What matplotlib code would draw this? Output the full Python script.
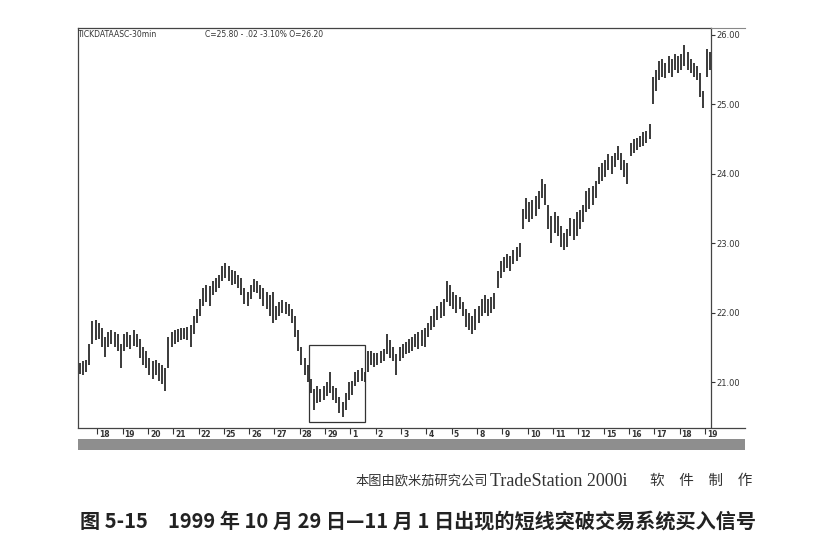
import matplotlib.pyplot as plt
from matplotlib.patches import Rectangle
from matplotlib.lines import Line2D
import numpy as np

# trading days shown on the date strip (Oct 18 .. Nov 19, 1999)
day_labels = ['18', '19', '20', '21', '22', '25', '26', '27', '28', '29',
              '1', '2', '3', '4', '5', '8', '9', '10', '11', '12',
              '15', '16', '17', '18', '19']
bars_per_day = 8

# 30-min bars: first day (Oct 15) is partial, last day (Nov 19) too
first_day_offset = 2   # Oct 15 starts at bar slot 2
lows = [
    21.12, 21.10, 21.15, 21.25, 21.55, 21.60,                   # Oct 15
    21.62, 21.50, 21.36, 21.50, 21.55, 21.50, 21.45, 21.20,     # Oct 18
    21.45, 21.50, 21.48, 21.52, 21.50, 21.35, 21.25, 21.20,     # Oct 19
    21.10, 21.05, 21.10, 21.02, 20.98, 20.88, 21.20, 21.50,     # Oct 20
    21.55, 21.58, 21.60, 21.62, 21.60, 21.50, 21.70, 21.85,     # Oct 21
    21.95, 22.10, 22.15, 22.10, 22.25, 22.30, 22.35, 22.45,     # Oct 22
    22.50, 22.45, 22.40, 22.42, 22.35, 22.25, 22.12, 22.10,     # Oct 25
    22.20, 22.30, 22.28, 22.20, 22.10, 22.05, 21.95, 21.85,     # Oct 26
    21.90, 21.95, 22.00, 21.98, 21.95, 21.85, 21.65, 21.45,     # Oct 27
    21.25, 21.10, 21.00, 20.85, 20.60, 20.70, 20.72, 20.75,     # Oct 28
    20.80, 20.85, 20.75, 20.70, 20.55, 20.50, 20.60, 20.75,     # Oct 29
    20.82, 20.95, 21.00, 21.02, 21.00, 21.15, 21.25, 21.22,     # Nov 1
    21.25, 21.28, 21.30, 21.40, 21.35, 21.30, 21.10, 21.30,     # Nov 2
    21.35, 21.40, 21.42, 21.45, 21.50, 21.48, 21.52, 21.50,     # Nov 3
    21.65, 21.75, 21.80, 21.90, 21.92, 21.95, 22.15, 22.10,     # Nov 4
    22.05, 22.00, 22.05, 21.95, 21.80, 21.75, 21.70, 21.75,     # Nov 5
    21.85, 21.95, 22.00, 21.95, 22.00, 22.05, 22.35, 22.50,     # Nov 8
    22.58, 22.65, 22.60, 22.70, 22.75, 22.80, 23.20, 23.35,     # Nov 9
    23.30, 23.35, 23.40, 23.50, 23.65, 23.55, 23.20, 23.00,     # Nov 10
    23.15, 23.10, 22.95, 22.90, 22.95, 23.10, 23.05, 23.10,     # Nov 11
    23.20, 23.30, 23.45, 23.50, 23.55, 23.65, 23.85, 23.90,     # Nov 12
    23.95, 24.05, 24.00, 24.10, 24.20, 24.05, 23.95, 23.85,     # Nov 15
    24.25, 24.30, 24.35, 24.38, 24.40, 24.45, 24.50, 25.00,     # Nov 16
    25.20, 25.35, 25.40, 25.38, 25.45, 25.40, 25.50, 25.45,     # Nov 17
    25.50, 25.55, 25.50, 25.45, 25.40, 25.35, 25.10, 24.95,     # Nov 18
    25.40, 25.50,                                               # Nov 19
]
highs = [
    21.28, 21.30, 21.32, 21.55, 21.88, 21.90,
    21.85, 21.78, 21.65, 21.72, 21.75, 21.72, 21.70, 21.55,
    21.70, 21.72, 21.68, 21.75, 21.70, 21.62, 21.50, 21.45,
    21.35, 21.30, 21.32, 21.28, 21.25, 21.20, 21.65, 21.72,
    21.75, 21.76, 21.78, 21.78, 21.80, 21.82, 21.95, 22.05,
    22.20, 22.35, 22.40, 22.38, 22.45, 22.50, 22.55, 22.68,
    22.72, 22.68, 22.62, 22.60, 22.55, 22.50, 22.35, 22.30,
    22.40, 22.48, 22.45, 22.40, 22.35, 22.30, 22.25, 22.30,
    22.10, 22.15, 22.18, 22.15, 22.12, 22.05, 21.95, 21.75,
    21.50, 21.35, 21.25, 21.05, 20.90, 20.95, 20.90, 20.95,
    21.00, 21.15, 20.95, 20.92, 20.78, 20.72, 20.85, 21.00,
    21.02, 21.15, 21.18, 21.20, 21.15, 21.45, 21.45, 21.42,
    21.42, 21.45, 21.48, 21.70, 21.60, 21.50, 21.40, 21.50,
    21.55, 21.58, 21.62, 21.65, 21.70, 21.72, 21.75, 21.78,
    21.85, 21.95, 22.05, 22.10, 22.15, 22.20, 22.45, 22.40,
    22.30, 22.25, 22.22, 22.15, 22.05, 22.00, 21.95, 22.05,
    22.10, 22.20, 22.25, 22.20, 22.22, 22.28, 22.60, 22.75,
    22.80, 22.85, 22.82, 22.90, 22.95, 23.00, 23.50, 23.65,
    23.60, 23.62, 23.68, 23.75, 23.92, 23.85, 23.55, 23.40,
    23.45, 23.40, 23.25, 23.15, 23.20, 23.37, 23.35, 23.45,
    23.48, 23.55, 23.75, 23.80, 23.82, 23.90, 24.10, 24.15,
    24.20, 24.28, 24.25, 24.30, 24.40, 24.30, 24.20, 24.15,
    24.45, 24.50, 24.52, 24.55, 24.60, 24.62, 24.72, 25.40,
    25.50, 25.62, 25.65, 25.60, 25.70, 25.65, 25.72, 25.70,
    25.72, 25.85, 25.75, 25.65, 25.60, 25.55, 25.45, 25.20,
    25.80, 25.75,
]

# the highlighted breakout window (Oct 28 .. Nov 1)
box_days = (8.35, 10.58)
box_prices = (20.42, 21.53)

header_left = 'TICKDATAASC-30min'
header_right = 'C=25.80 - .02 -3.10% O=26.20'
credit_cn = '本图由欧米茄研究公司'
credit_en = 'TradeStation 2000i'
credit_tail = '软\u3000件\u3000制\u3000作'
caption = '图 5-15　1999 年 10 月 29 日—11 月 1 日出现的短线突破交易系统买入信号'

W, H = 817, 550
fig = plt.figure(figsize=(W / 100, H / 100), dpi=100)
fig.patch.set_facecolor('white')

def fx(px):
    return px / W

def fy(py):
    return 1 - py / H

# main price panel
left, right, top, bottom = 78, 711, 28, 428
ax = fig.add_axes([fx(left), fy(bottom), fx(right - left), fy(top) - fy(bottom)])
xlim = (-0.76, 24.24)
ax.set_xlim(*xlim)
ax.set_ylim(20.34, 26.1)

slots = np.arange(len(lows)) + first_day_offset
xpos = -1 + (slots + 0.5) / bars_per_day
ax.vlines(xpos, lows, highs, color='#2b2b2b', linewidth=1.3)

ax.add_patch(Rectangle((box_days[0], box_prices[0]), box_days[1] - box_days[0],
                       box_prices[1] - box_prices[0], fill=False,
                       edgecolor='#333333', linewidth=0.9))

ax.set_xticks([])
ax.yaxis.tick_right()
ax.set_yticks([21, 22, 23, 24, 25, 26])
ax.set_yticklabels([f'{v:.2f}' for v in [21, 22, 23, 24, 25, 26]])
ax.tick_params(axis='y', direction='out', length=3, width=0.8, pad=1,
               labelsize=6, colors='#333333')
ax.spines['bottom'].set_visible(False)
for s in ['left', 'top', 'right']:
    ax.spines[s].set_color('#444444')
    ax.spines[s].set_linewidth(0.9)

ax.text(0.0, 0.995, header_left, transform=ax.transAxes, fontsize=5.5,
        va='top', ha='left', color='#333333')
ax.text(0.2, 0.995, header_right, transform=ax.transAxes, fontsize=5.5,
        va='top', ha='left', color='#333333')

# top border continues past the price scale
fig.add_artist(Line2D([fx(right), fx(745)], [fy(top), fy(top)],
                      color='#888888', linewidth=0.8))

# date strip under the chart
strip_right, strip_bottom = 745, 450
sx = fig.add_axes([fx(left), fy(strip_bottom), fx(strip_right - left),
                   fy(bottom) - fy(strip_bottom)])
span = (xlim[1] - xlim[0]) * (strip_right - left) / (right - left)
sx.set_xlim(xlim[0], xlim[0] + span)
sx.set_ylim(0, 1)
sx.axhspan(0, 0.5, color='#8e8e8e', linewidth=0)
for s in ['left', 'right', 'bottom']:
    sx.spines[s].set_visible(False)
sx.spines['top'].set_color('#444444')
sx.spines['top'].set_linewidth(0.9)
sx.set_yticks([])
day_pos = np.arange(len(day_labels))
sx.set_xticks(day_pos)
sx.xaxis.tick_top()
sx.tick_params(axis='x', direction='in', length=4, width=0.8, colors='#333333',
               labeltop=False, labelbottom=False)
for p, lab in zip(day_pos, day_labels):
    sx.text(p + 0.08, 0.72, lab, fontsize=5.5, fontweight='bold', va='center',
            ha='left', color='#333333')

# credit line and figure caption
fig.text(fx(355), fy(481), credit_cn, ha='left', va='center', fontsize=9.5,
         family=['Noto Sans CJK SC', 'DejaVu Sans'], color='#333333')
fig.text(fx(490), fy(481), credit_en, ha='left', va='center', fontsize=13,
         family=['Liberation Serif', 'DejaVu Serif'], color='#333333')
fig.text(fx(650), fy(481), credit_tail, ha='left', va='center', fontsize=10.5,
         family=['Noto Sans CJK SC', 'DejaVu Sans'], color='#333333')
fig.text(fx(80), fy(521), caption, ha='left', va='center', fontsize=14.5,
         fontweight='bold', family=['Noto Sans CJK SC', 'DejaVu Sans'],
         color='#222222')

fig.savefig('out.png', dpi=100, facecolor='white')
